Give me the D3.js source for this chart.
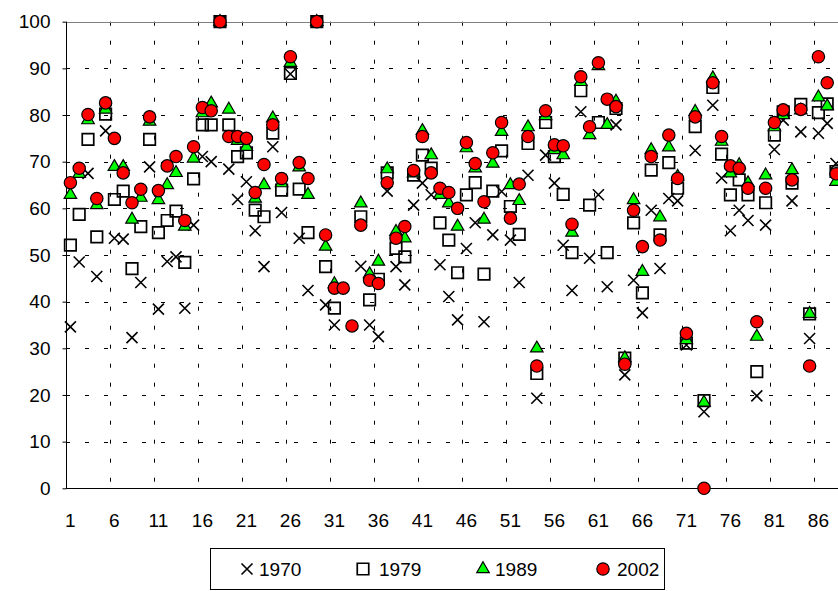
<!DOCTYPE html>
<html>
<head>
<meta charset="utf-8">
<script src="https://cdn.jsdelivr.net/npm/d3@7"></script>
<style>
  body { margin: 0; background: #fff; }
  svg { display: block; font-family: 'Liberation Sans', Arial, sans-serif; }
</style>
</head>
<body>
<div class="vis-scatter"></div>
<script>
// categories run past the right edge of the picture
const categories = [
  1, 2, 3, 4, 5, 6, 7, 8, 9, 10, 11, 12, 13, 14, 15, 16, 17, 18, 19, 20,
  21, 22, 23, 24, 25, 26, 27, 28, 29, 30, 31, 32, 33, 34, 35, 36, 37, 38, 39, 40,
  41, 42, 43, 44, 45, 46, 47, 48, 49, 50, 51, 52, 53, 54, 55, 56, 57, 58, 59, 60,
  61, 62, 63, 64, 65, 66, 67, 68, 69, 70, 71, 72, 73, 74, 75, 76, 77, 78, 79, 80,
  81, 82, 83, 84, 85, 86, 87, 88, 89, 90, 91
];
const tickLabels = [1, 6, 11, 16, 21, 26, 31, 36, 41, 46, 51, 56, 61, 66, 71, 76, 81, 86];
const yTicks = [0, 10, 20, 30, 40, 50, 60, 70, 80, 90, 100];

const v1970 = [
  34.6, 48.5, 67.5, 45.4, 76.6, 53.6, 53.4, 32.3, 44.1, 68.9,
  38.4, 48.6, 49.6, 38.6, 56.4, 71.1, 70.0, 100, 68.4, 61.9,
  65.7, 55.2, 47.5, 73.2, 59.1, 88.8, 53.6, 42.4, 100, 39.3,
  35.0, null, null, 47.6, 35.0, 32.5, 63.7, 47.5, 43.6, 60.7,
  65.4, 62.9, 47.9, 41.1, 36.1, 51.4, 56.9, 35.7, 54.3, 63.6,
  53.2, 44.1, 67.1, 19.3, 71.4, 65.4, 52.1, 42.4, 80.7, 49.3,
  62.9, 43.2, 77.9, 24.3, 44.6, 37.6, 59.6, 47.1, 62.1, 61.6,
  30.7, 72.4, 16.4, 82.1, 66.5, 55.2, 59.6, 57.4, 19.8, 56.4,
  72.6, 78.9, 61.6, 76.4, 32.1, 76.1, 78.2, 69.6
];
const v1979 = [
  52.1, 58.7, 74.8, 53.9, 80.2, 61.9, 63.7, 47.1, 56.1, 74.8,
  54.8, 57.4, 59.4, 48.4, 66.3, 77.9, 77.9, 100, 77.9, 71.1,
  71.9, 59.6, 58.2, 76.1, 63.9, 88.9, 64.1, 54.8, 100, 47.5,
  38.6, null, null, 58.2, 40.4, 44.8, 67.6, 51.4, 49.6, 67.1,
  71.4, 68.6, 56.9, 53.2, 46.2, 62.9, 65.5, 45.9, 63.7, 72.3,
  60.4, 54.4, 73.9, 24.6, 78.4, 71.1, 63.0, 50.5, 85.2, 60.7,
  78.4, 50.5, 81.4, 27.9, 56.9, 41.9, 68.2, 54.3, 69.8, 64.3,
  31.1, 77.5, 18.8, 85.9, 71.6, 62.9, 66.1, 62.9, 25.0, 61.2,
  75.7, 80.7, 65.4, 82.3, 37.4, 80.5, 82.4, 67.9
];
const v1989 = [
  62.9, 67.4, 78.9, 60.7, 81.2, 68.9, 68.9, 57.6, 62.3, 78.6,
  61.8, 65.0, 67.6, 56.1, 70.7, 80.4, 82.5, 100, 81.2, 74.5,
  73.2, 62.1, 65.0, 79.3, 65.4, 91.2, 68.8, 62.9, 100, 51.8,
  43.8, null, null, 61.1, 45.9, 48.6, 68.4, 55.0, 53.6, 67.5,
  76.6, 71.4, 62.9, 61.1, 56.1, 72.9, 68.6, 57.6, 69.6, 76.4,
  65.0, 61.6, 77.4, 30.0, 79.8, 72.5, 71.4, 54.8, 87.1, 75.7,
  90.5, 77.9, 82.9, 27.9, 61.8, 46.4, 72.5, 58.1, 73.1, 66.8,
  31.8, 80.7, 18.4, 87.9, 74.3, 67.5, 69.3, 65.4, 32.5, 67.1,
  77.4, 80.0, 68.2, 81.0, 37.4, 83.8, 81.9, 65.7
];
const v2002 = [
  65.5, 68.6, 80.1, 62.1, 82.6, 75.0, 67.6, 61.2, 64.1, 79.6,
  63.8, 69.1, 71.1, 57.4, 73.2, 81.6, 80.9, 100, 75.4, 75.4,
  75.0, 63.4, 69.4, 77.9, 66.4, 92.5, 69.8, 66.4, 100, 54.3,
  42.9, 42.9, 34.8, 56.4, 44.6, 43.9, 65.5, 53.6, 56.1, 68.1,
  75.4, 67.6, 64.3, 63.4, 60.0, 74.1, 69.6, 61.4, 71.9, 78.4,
  57.9, 65.2, 75.4, 26.2, 80.9, 73.6, 73.4, 56.6, 88.2, 77.5,
  91.2, 83.4, 81.8, 26.6, 59.6, 51.8, 71.1, 53.2, 75.7, 66.4,
  33.2, 79.6, 0, 86.9, 75.4, 69.1, 68.6, 64.3, 35.7, 64.3,
  78.4, 81.1, 66.1, 81.2, 26.2, 92.5, 86.9, 67.4
];

const seriesNames = ['1970', '1979', '1989', '2002'];
const seriesValues = [v1970, v1979, v1989, v2002];

const width = 838;
const height = 591;
const margin = { top: 21.7, left: 66 };
const plotH = 466.6;
const step = 8.8;

const svg = d3
  .select('.vis-scatter')
  .append('svg')
  .attr('width', width)
  .attr('height', height);

svg.append('rect').attr('width', width).attr('height', height).attr('fill', '#fff');

const x = d3
  .scaleBand()
  .domain(categories)
  .range([margin.left, margin.left + categories.length * step])
  .padding(0);

const y = d3.scaleLinear().domain([0, 100]).range([margin.top + plotH, margin.top]);

const plotRight = margin.left + categories.length * step;

// horizontal grid
svg
  .selectAll('.hgrid')
  .data(yTicks.filter((d) => d > 0 && d < 100))
  .enter()
  .append('line')
  .attr('class', 'hgrid')
  .attr('x1', margin.left)
  .attr('x2', plotRight)
  .attr('y1', (d) => Math.round(y(d)) + 0.5)
  .attr('y2', (d) => Math.round(y(d)) + 0.5)
  .attr('stroke', '#000')
  .attr('stroke-width', 1)
  .attr('stroke-dasharray', '4,15');

// vertical grid between every 5th category
svg
  .selectAll('.vgrid')
  .data(tickLabels.slice(1))
  .enter()
  .append('line')
  .attr('class', 'vgrid')
  .attr('x1', (d) => Math.round(x(d)) + 0.5)
  .attr('x2', (d) => Math.round(x(d)) + 0.5)
  .attr('y1', margin.top)
  .attr('y2', margin.top + plotH)
  .attr('stroke', '#000')
  .attr('stroke-width', 1)
  .attr('stroke-dasharray', '4,15');

// plot border top
svg
  .append('line')
  .attr('x1', margin.left)
  .attr('x2', plotRight)
  .attr('y1', Math.round(margin.top) + 0.5)
  .attr('y2', Math.round(margin.top) + 0.5)
  .attr('stroke', '#808080');

// y axis
const yAxis = svg
  .append('g')
  .attr('transform', 'translate(' + (Math.round(margin.left) + 0.5) + ',0)')
  .call(d3.axisLeft(y).tickValues(yTicks).tickSize(4).tickPadding(12));
yAxis.select('.domain').attr('stroke', '#000').attr('d', 'M0,' + y(100) + 'V' + y(0));
yAxis.selectAll('text').attr('font-size', 19).attr('font-family', "'Liberation Sans', Arial, sans-serif").attr('fill', '#000');

// x axis line and labels
svg
  .append('line')
  .attr('x1', margin.left)
  .attr('x2', plotRight)
  .attr('y1', Math.round(y(0)) + 0.5)
  .attr('y2', Math.round(y(0)) + 0.5)
  .attr('stroke', '#000');

svg
  .selectAll('.xlabel')
  .data(tickLabels)
  .enter()
  .append('text')
  .attr('class', 'xlabel')
  .attr('x', (d) => x(d) + x.bandwidth() / 2)
  .attr('y', 527)
  .attr('text-anchor', 'middle')
  .attr('font-size', 19)
  .text((d) => d);

// markers
const drawMarker = (sel, i) => {
  if (i === 0) {
    const h = 5.5;
    sel
      .append('path')
      .attr('d', 'M' + -h + ',' + -h + 'L' + h + ',' + h + 'M' + -h + ',' + h + 'L' + h + ',' + -h)
      .attr('stroke', '#000')
      .attr('stroke-width', 1.6)
      .attr('fill', 'none');
  } else if (i === 1) {
    sel
      .append('path')
      .attr('d', d3.symbol().type(d3.symbolSquare).size(132)())
      .attr('stroke', '#000')
      .attr('stroke-width', 1.7)
      .attr('fill', 'none');
  } else if (i === 2) {
    sel
      .append('path')
      .attr('d', d3.symbol().type(d3.symbolTriangle).size(68)())
      .attr('stroke', '#000')
      .attr('stroke-width', 1.2)
      .attr('fill', '#00ff00');
  } else {
    sel
      .append('path')
      .attr('d', d3.symbol().type(d3.symbolCircle).size(120)())
      .attr('stroke', '#000')
      .attr('stroke-width', 1.2)
      .attr('fill', '#ff0000');
  }
};

seriesValues.forEach((vals, i) => {
  const pts = vals
    .map((v, j) => ({ c: categories[j], v: v }))
    .filter((d) => d.v !== null);
  svg
    .append('g')
    .attr('class', 'series-' + seriesNames[i])
    .selectAll('g')
    .data(pts)
    .enter()
    .append('g')
    .attr('transform', (d) => 'translate(' + (x(d.c) + x.bandwidth() / 2) + ',' + y(d.v) + ')')
    .each(function () {
      drawMarker(d3.select(this), i);
    });
});

// legend
const legend = svg.append('g');
legend
  .append('rect')
  .attr('x', 210.5)
  .attr('y', 548.5)
  .attr('width', 454)
  .attr('height', 41)
  .attr('fill', '#fff')
  .attr('stroke', '#000');

const legendX = [247, 363, 483, 603];
const legendG = legend
  .selectAll('.legend')
  .data(seriesNames)
  .enter()
  .append('g')
  .attr('class', 'legend')
  .attr('transform', (d, i) => 'translate(' + legendX[i] + ',569)');

legendG.each(function (d, i) {
  drawMarker(d3.select(this), i);
});

legendG
  .append('text')
  .text((d) => d)
  .attr('x', (d, i) => (i === 3 ? 14 : 12) + (i === 1 ? 4 : 0))
  .attr('y', 7)
  .attr('font-size', 19);
</script>
</body>
</html>
